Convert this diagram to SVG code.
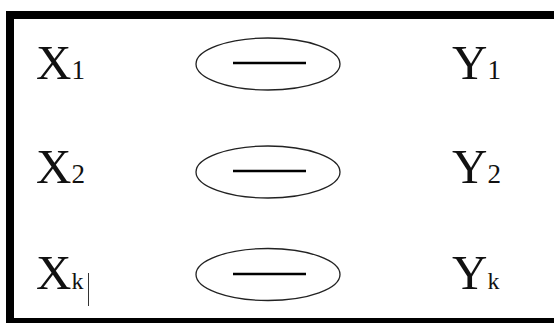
<svg xmlns="http://www.w3.org/2000/svg" width="554" height="323" viewBox="0 0 554 323">
<style>
.t{font-family:"Liberation Serif","Times New Roman",serif;font-size:49px;fill:#111}
.s{font-size:27px}
.k{font-size:24px}
.e{fill:none;stroke:#222;stroke-width:1.3}
.m{stroke:#000;stroke-width:2.6}
</style>
<rect width="554" height="323" fill="#fff"/>
<rect x="10" y="15" width="600" height="307" fill="none" stroke="#000" stroke-width="8"/>
<g id="x1"><text class="t" x="36" y="79">X<tspan class="s">1</tspan></text></g>
<g id="x2"><text class="t" x="36" y="183">X<tspan class="s">2</tspan></text></g>
<g id="xk"><text class="t" x="36" y="289">X<tspan class="k">k</tspan></text></g>
<line x1="88.5" y1="273" x2="88.5" y2="306" stroke="#333" stroke-width="1"/>
<g id="o1"><ellipse class="e" cx="268" cy="64" rx="72" ry="26"/><line class="m" x1="233" y1="63" x2="306" y2="63"/></g>
<g id="o2"><ellipse class="e" cx="268" cy="172" rx="72" ry="26"/><line class="m" x1="233" y1="171" x2="306" y2="171"/></g>
<g id="o3"><ellipse class="e" cx="268" cy="274.5" rx="72" ry="26"/><line class="m" x1="233" y1="274" x2="306" y2="274"/></g>
<g id="y1"><text class="t" x="452" y="79">Y<tspan class="s">1</tspan></text></g>
<g id="y2"><text class="t" x="452" y="183">Y<tspan class="s">2</tspan></text></g>
<g id="yk"><text class="t" x="452" y="289">Y<tspan class="k">k</tspan></text></g>
<g id="connectors"></g>
</svg>
